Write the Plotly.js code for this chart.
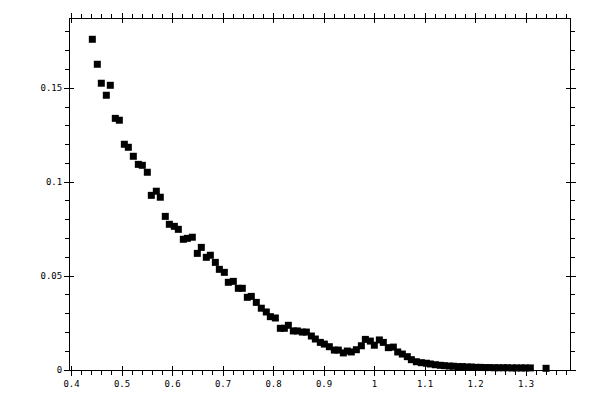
<!DOCTYPE html>
<html>
<head>
<meta charset="utf-8">
<script src="https://cdn.plot.ly/plotly-3.0.1.min.js"></script>
<style>html,body{margin:0;padding:0;background:#fff;}#chart{width:600px;height:400px;}</style>
</head>
<body>
<div id="chart"></div>
<script>
const xValues = [0.4412,0.4511,0.4590,0.4689,0.4768,0.4867,0.4947,0.5046,0.5125,0.5224,
0.5323,0.5402,0.5501,0.5580,0.5679,0.5758,0.5857,0.5937,0.6036,0.6115,
0.6214,0.6293,0.6392,0.6491,0.6570,0.6669,0.6749,0.6848,0.6927,0.7026,
0.7105,0.7204,0.7303,0.7382,0.7481,0.7560,0.7659,0.7758,0.7857,0.7937,
0.8036,0.8135,0.8214,0.8293,0.8392,0.8471,0.8570,0.8650,0.8749,0.8828,
0.8927,0.9006,0.9105,0.9204,0.9283,0.9382,0.9461,0.9540,0.9640,0.9739,
0.9818,0.9917,0.9996,1.0095,1.0174,1.0273,1.0372,1.0459,1.0550,1.0649,
1.0729,1.0828,1.0927,1.1026,1.1105,1.1204,1.1303,1.1382,1.1481,1.1560,
1.1659,1.1739,1.1838,1.1917,1.2016,1.2095,1.2194,1.2273,1.2372,1.2451,
1.2550,1.2630,1.2729,1.2808,1.2907,1.2986,1.3085,1.3396];
const yValues = [0.1761,0.1628,0.1527,0.1463,0.1516,0.1340,0.1330,0.1202,0.1186,0.1138,
0.1095,0.1090,0.1053,0.0930,0.0952,0.0920,0.0818,0.0776,0.0765,0.0749,
0.0696,0.0701,0.0707,0.0621,0.0653,0.0600,0.0611,0.0573,0.0536,0.0520,
0.0467,0.0472,0.0435,0.0435,0.0387,0.0392,0.0360,0.0329,0.0309,0.0284,
0.0277,0.0222,0.0222,0.0238,0.0208,0.0208,0.0202,0.0202,0.0181,0.0165,
0.0147,0.0138,0.0124,0.0106,0.0106,0.0091,0.0101,0.0096,0.0108,0.0129,
0.0163,0.0154,0.0132,0.0160,0.0147,0.0119,0.0122,0.0096,0.0085,0.0071,
0.0055,0.0044,0.0039,0.0036,0.0032,0.0028,0.0025,0.0023,0.0021,0.0020,
0.0018,0.0018,0.0016,0.0016,0.0014,0.0014,0.0013,0.0013,0.0012,0.0012,
0.0012,0.0012,0.0011,0.0011,0.0011,0.0011,0.0011,0.0009];
const xRange = [0.397, 1.387];
const yRange = [0, 0.1869];

const tickFont = {family: 'DejaVu Sans Mono, monospace', size: 9, color: '#000'};
const baseAxis = {
  showgrid: false, zeroline: false, showline: true, linecolor: '#000', linewidth: 1,
  mirror: 'allticks', ticks: 'outside', ticklen: 5, tickwidth: 1, tickcolor: '#000',
  tickfont: tickFont
};
const overlayAxis = {
  showgrid: false, zeroline: false, showline: false, mirror: 'allticks',
  ticks: 'inside', ticklen: 4, tickwidth: 1, tickcolor: '#000', showticklabels: false
};

const data = [
  {x: xValues, y: yValues, type: 'scatter', mode: 'markers',
   marker: {symbol: 'square', size: 7, color: '#000', line: {width: 0}},
   cliponaxis: false, hoverinfo: 'none'},
  {x: [], y: [], xaxis: 'x2', yaxis: 'y2', type: 'scatter', mode: 'markers', hoverinfo: 'none'}
];
const layout = {
  width: 600, height: 400,
  margin: {l: 70, r: 30, t: 19, b: 30},
  paper_bgcolor: '#fff', plot_bgcolor: '#fff',
  showlegend: false,
  xaxis: Object.assign({}, baseAxis, {range: xRange, dtick: 0.1, tick0: 0,
    minor: {dtick: 0.02, ticks: 'outside', ticklen: 4, tickwidth: 1, tickcolor: '#000'}}),
  yaxis: Object.assign({}, baseAxis, {range: yRange, dtick: 0.05, tick0: 0,
    minor: {dtick: 0.01, ticks: 'outside', ticklen: 4, tickwidth: 1, tickcolor: '#000'}}),
  xaxis2: Object.assign({}, overlayAxis, {range: xRange, dtick: 0.1, tick0: 0, overlaying: 'x', anchor: 'y2'}),
  yaxis2: Object.assign({}, overlayAxis, {range: yRange, dtick: 0.05, tick0: 0, overlaying: 'y', anchor: 'x2'})
};
Plotly.newPlot('chart', data, layout, {staticPlot: true, displayModeBar: false});
</script>
</body>
</html>
